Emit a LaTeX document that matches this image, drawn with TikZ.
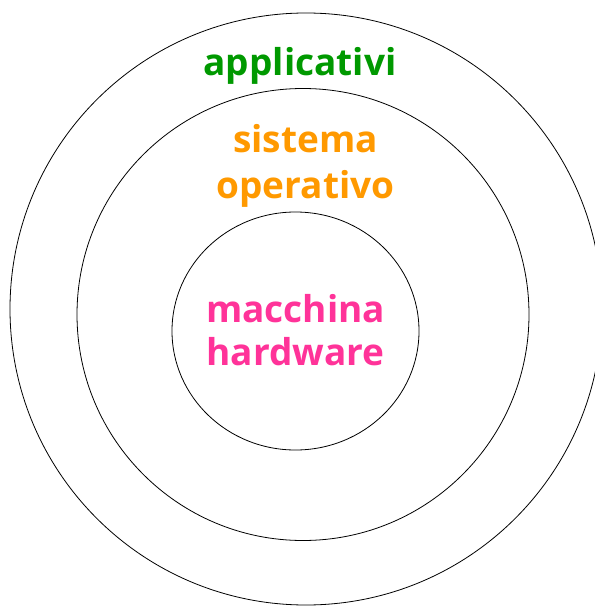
\documentclass[tikz,border=0pt]{standalone}
\usepackage{fontspec}
\setmainfont{Open Sans}
\usepackage{tikz}
\usetikzlibrary{positioning,shapes.geometric}

\definecolor{appgreen}{RGB}{0,153,0}
\definecolor{sysorange}{RGB}{255,153,0}
\definecolor{hwpink}{RGB}{255,51,153}

\begin{document}
\begin{tikzpicture}[x=1pt, y=-1pt, every node/.style={inner sep=0pt, font=\bfseries\fontsize{37}{46}\selectfont}, align=center]
		\useasboundingbox (0,0) rectangle (594,607);
		% rings
		\draw[line width=0.8pt] (306,309) circle [radius=296pt];
		\draw[line width=0.8pt] (303,314.5) circle [radius=226pt];
		\draw[line width=0.8pt] (295.5,331) ellipse [x radius=123.5pt, y radius=119pt];
		
		\node [anchor=base, text=appgreen] (app) at (300,76) {applicativi};
		\node [text=sysorange] (os) at (305.5,166) {sistema\\operativo};
		\node [text=hwpink, font=\bfseries\fontsize{37}{43}\selectfont] (hw) at (295.5,330) {macchina\\hardware};
		
	\end{tikzpicture}
\end{document}
